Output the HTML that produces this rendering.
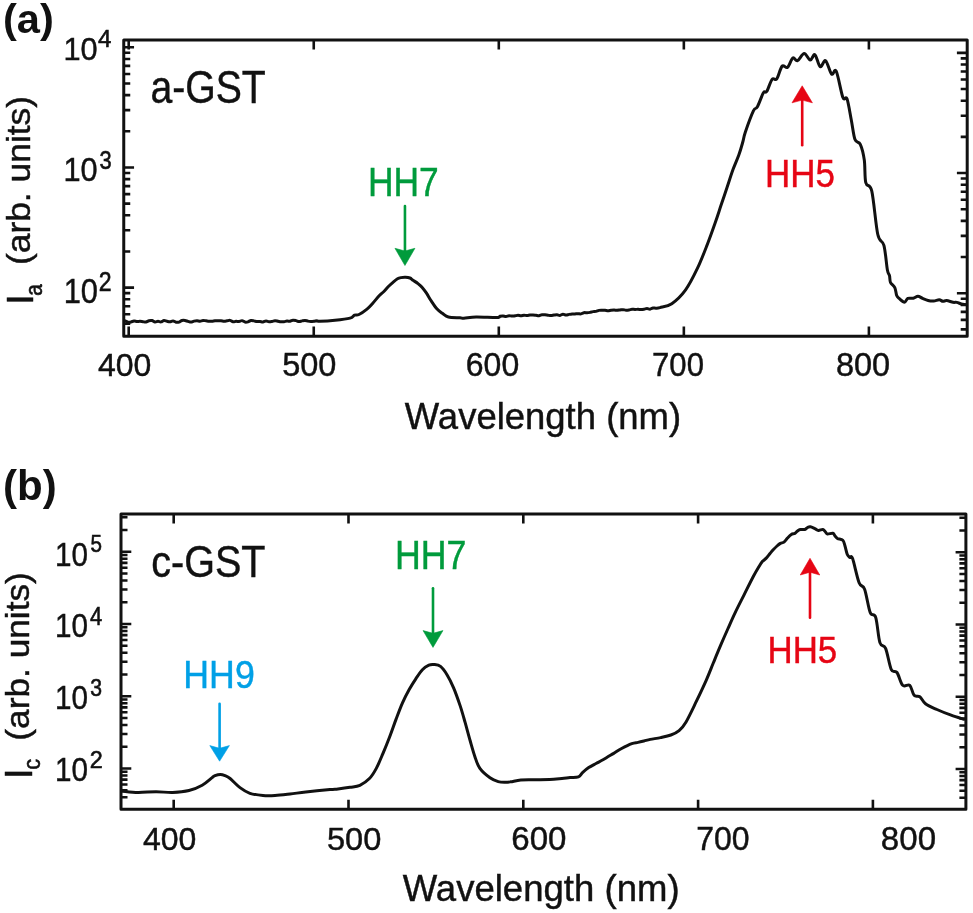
<!DOCTYPE html>
<html><head><meta charset="utf-8"><style>
html,body{margin:0;padding:0;background:#fff;width:973px;height:913px;overflow:hidden}
svg{display:block;will-change:transform}
text{font-family:"Liberation Sans",sans-serif;white-space:pre;-webkit-font-smoothing:antialiased}
</style></head><body>
<svg width="973" height="913" viewBox="0 0 973 913">
<rect width="973" height="913" fill="#fff"/>
<rect x="123.75" y="39.9" width="843.45" height="296.3" fill="none" stroke="#111" stroke-width="3.0" stroke-linejoin="round"/>
<path d="M123.75 323.81h6.5 M967.2 329.41h-6.5 M123.75 314.3h6.5 M967.2 319.9h-6.5 M123.75 306.25h6.5 M967.2 311.85h-6.5 M123.75 299.29h6.5 M967.2 304.89h-6.5 M123.75 293.14h6.5 M967.2 298.74h-6.5 M123.75 287.64h10.3 M967.2 293.24h-10.3 M123.75 251.47h6.5 M967.2 257.07h-6.5 M123.75 230.3h6.5 M967.2 235.9h-6.5 M123.75 215.29h6.5 M967.2 220.89h-6.5 M123.75 203.64h6.5 M967.2 209.24h-6.5 M123.75 194.13h6.5 M967.2 199.73h-6.5 M123.75 186.08h6.5 M967.2 191.68h-6.5 M123.75 179.12h6.5 M967.2 184.72h-6.5 M123.75 172.97h6.5 M967.2 178.57h-6.5 M123.75 167.47h10.3 M967.2 173.07h-10.3 M123.75 131.3h6.5 M967.2 136.9h-6.5 M123.75 110.13h6.5 M967.2 115.73h-6.5 M123.75 95.12h6.5 M967.2 100.72h-6.5 M123.75 83.47h6.5 M967.2 89.07h-6.5 M123.75 73.96h6.5 M967.2 79.56h-6.5 M123.75 65.91h6.5 M967.2 71.51h-6.5 M123.75 58.95h6.5 M967.2 64.55h-6.5 M123.75 52.8h6.5 M967.2 58.4h-6.5 M123.75 47.3h10.3 M967.2 52.9h-10.3 M128.7 336.2v-9.6 M128.7 39.9v9.6 M313.75 336.2v-9.6 M313.75 39.9v9.6 M498.8 336.2v-9.6 M498.8 39.9v9.6 M683.85 336.2v-9.6 M683.85 39.9v9.6 M868.9 336.2v-9.6 M868.9 39.9v9.6" stroke="#111" stroke-width="2.6" fill="none"/>
<rect x="121" y="514" width="844.9" height="295.3" fill="none" stroke="#111" stroke-width="3.0" stroke-linejoin="round"/>
<path d="M121 797.21h6.5 M965.9 797.71h-6.5 M121 790.21h6.5 M965.9 790.71h-6.5 M121 784.49h6.5 M965.9 784.99h-6.5 M121 779.65h6.5 M965.9 780.15h-6.5 M121 775.46h6.5 M965.9 775.96h-6.5 M121 771.77h6.5 M965.9 772.27h-6.5 M121 768.46h10.3 M965.9 768.96h-10.3 M121 746.71h6.5 M965.9 747.21h-6.5 M121 733.99h6.5 M965.9 734.49h-6.5 M121 724.96h6.5 M965.9 725.46h-6.5 M121 717.96h6.5 M965.9 718.46h-6.5 M121 712.24h6.5 M965.9 712.74h-6.5 M121 707.4h6.5 M965.9 707.9h-6.5 M121 703.21h6.5 M965.9 703.71h-6.5 M121 699.52h6.5 M965.9 700.02h-6.5 M121 696.21h10.3 M965.9 696.71h-10.3 M121 674.46h6.5 M965.9 674.96h-6.5 M121 661.74h6.5 M965.9 662.24h-6.5 M121 652.71h6.5 M965.9 653.21h-6.5 M121 645.71h6.5 M965.9 646.21h-6.5 M121 639.99h6.5 M965.9 640.49h-6.5 M121 635.15h6.5 M965.9 635.65h-6.5 M121 630.96h6.5 M965.9 631.46h-6.5 M121 627.27h6.5 M965.9 627.77h-6.5 M121 623.96h10.3 M965.9 624.46h-10.3 M121 602.21h6.5 M965.9 602.71h-6.5 M121 589.49h6.5 M965.9 589.99h-6.5 M121 580.46h6.5 M965.9 580.96h-6.5 M121 573.46h6.5 M965.9 573.96h-6.5 M121 567.74h6.5 M965.9 568.24h-6.5 M121 562.9h6.5 M965.9 563.4h-6.5 M121 558.71h6.5 M965.9 559.21h-6.5 M121 555.02h6.5 M965.9 555.52h-6.5 M121 551.71h10.3 M965.9 552.21h-10.3 M121 529.96h6.5 M965.9 530.46h-6.5 M121 517.24h6.5 M965.9 517.74h-6.5 M173.7 809.3v-9.6 M173.7 514v9.6 M348.5 809.3v-9.6 M348.5 514v9.6 M523.3 809.3v-9.6 M523.3 514v9.6 M698.1 809.3v-9.6 M698.1 514v9.6 M872.9 809.3v-9.6 M872.9 514v9.6" stroke="#111" stroke-width="2.6" fill="none"/>
<path d="M125 320.84C125.5 321.05 127 321.93 128 322.12C129 322.3 130 322.14 131 321.96C132 321.78 133 321.12 134 321.04C135 320.95 136 321.41 137 321.46C138 321.52 139 321.33 140 321.37C141 321.41 142 321.63 143 321.73C144 321.83 145 322.14 146 321.97C147 321.8 148 320.94 149 320.71C150 320.48 151 320.36 152 320.58C153 320.8 154 321.91 155 322.03C156 322.15 157 321.32 158 321.29C159 321.27 160 322.01 161 321.88C162 321.75 163 320.6 164 320.5C165 320.41 166 321.08 167 321.29C168 321.51 169 321.85 170 321.78C171 321.72 172 320.82 173 320.89C174 320.95 175 321.97 176 322.17C177 322.37 178 322.36 179 322.08C180 321.81 181 320.77 182 320.51C183 320.24 184 320.34 185 320.49C186 320.64 187 321.14 188 321.41C189 321.68 190 322.17 191 322.12C192 322.07 193 321.33 194 321.11C195 320.89 196 320.8 197 320.81C198 320.81 199 321.23 200 321.17C201 321.11 202 320.51 203 320.45C204 320.39 205 320.67 206 320.79C207 320.91 208 321.09 209 321.17C210 321.25 211 321.33 212 321.27C213 321.21 214 320.87 215 320.79C216 320.71 217 320.78 218 320.78C219 320.77 220 320.68 221 320.75C222 320.81 223 321.15 224 321.17C225 321.19 226 320.99 227 320.86C228 320.73 229 320.21 230 320.37C231 320.53 232 321.67 233 321.83C234 321.99 235 321.38 236 321.32C237 321.26 238 321.58 239 321.46C240 321.35 241 320.53 242 320.63C243 320.74 244 321.88 245 322.08C246 322.28 247 322.1 248 321.83C249 321.57 250 320.66 251 320.49C252 320.33 253 320.69 254 320.87C255 321.05 256 321.45 257 321.56C258 321.67 259 321.47 260 321.53C261 321.6 262 322.02 263 321.93C264 321.84 265 321.03 266 321C267 320.96 268 321.65 269 321.72C270 321.8 271 321.59 272 321.43C273 321.27 274 320.79 275 320.76C276 320.73 277 321.09 278 321.27C279 321.44 280 321.71 281 321.79C282 321.86 283 321.83 284 321.72C285 321.6 286 321.17 287 321.09C288 321.01 289 321.38 290 321.24C291 321.09 292 320.34 293 320.23C294 320.12 295 320.37 296 320.6C297 320.82 298 321.54 299 321.59C300 321.64 301 321.08 302 320.89C303 320.7 304 320.41 305 320.45C306 320.49 307 320.96 308 321.12C309 321.28 310 321.35 311 321.39C312 321.42 313 321.43 314 321.33C315 321.23 316 320.79 317 320.78C318 320.78 317 321.38 320 321.3C323 321.22 330 320.83 335 320.3C340 319.77 346.75 318.95 350 318.1C353.25 317.25 353 315.8 354.5 315.2C356 314.6 356.92 315.52 359 314.5C361.08 313.48 364.73 310.95 367 309.1C369.27 307.25 370.53 305.67 372.6 303.4C374.67 301.13 377.52 297.48 379.4 295.5C381.28 293.52 382.4 293 383.9 291.5C385.4 290 386.88 288.03 388.4 286.5C389.92 284.97 391.48 283.58 393 282.3C394.52 281.02 396.17 279.58 397.5 278.8C398.83 278.02 399.68 277.87 401 277.6C402.32 277.33 403.92 277.13 405.4 277.2C406.88 277.27 408.62 277.48 409.9 278C411.18 278.52 411.75 279.37 413.1 280.3C414.45 281.23 416.48 282.42 418 283.6C419.52 284.78 420.78 285.8 422.2 287.4C423.62 289 424.97 290.9 426.5 293.2C428.03 295.5 429.63 298.55 431.4 301.2C433.17 303.85 435.22 307.03 437.1 309.1C438.98 311.17 440.82 312.28 442.7 313.6C444.58 314.92 445.52 316.3 448.4 317C451.28 317.7 457.42 317.6 460 317.8C462.58 318 461.2 318.33 463.9 318.2C466.6 318.07 470.72 317.1 476.2 317C481.68 316.9 492.83 317.72 496.8 317.6C500.77 317.48 498.97 316.56 500 316.29C501.03 316.02 502 315.95 503 315.98C504 316.01 505 316.52 506 316.47C507 316.42 508 315.73 509 315.67C510 315.61 511 316.1 512 316.12C513 316.14 514 315.94 515 315.81C516 315.68 517 315.34 518 315.34C519 315.34 520 315.83 521 315.8C522 315.77 523 315.2 524 315.16C525 315.11 526 315.57 527 315.55C528 315.53 529 315.13 530 315.03C531 314.94 532 314.93 533 314.98C534 315.02 535 315.18 536 315.3C537 315.42 538 315.79 539 315.7C540 315.61 541 314.92 542 314.78C543 314.63 544 314.75 545 314.82C546 314.9 547 315.12 548 315.24C549 315.36 550 315.59 551 315.56C552 315.52 553 315.18 554 315.04C555 314.91 556 314.7 557 314.76C558 314.82 559 315.48 560 315.39C561 315.3 562 314.25 563 314.2C564 314.16 565 315.08 566 315.11C567 315.14 568 314.53 569 314.36C570 314.2 571 314.2 572 314.12C573 314.04 574 313.97 575 313.9C576 313.83 577 313.7 578 313.69C579 313.69 580 314.04 581 313.87C582 313.7 583 312.87 584 312.68C585 312.49 586 312.78 587 312.73C588 312.67 589 312.55 590 312.36C591 312.18 592 311.77 593 311.61C594 311.45 595 311.6 596 311.39C597 311.18 598 310.57 599 310.38C600 310.19 601 310.26 602 310.25C603 310.24 604 310.22 605 310.3C606 310.38 607 310.74 608 310.75C609 310.75 610 310.43 611 310.32C612 310.2 613 310.07 614 310.06C615 310.05 616 310.27 617 310.26C618 310.25 619 310.08 620 309.98C621 309.88 622 309.64 623 309.67C624 309.7 625 310.1 626 310.14C627 310.18 628 310.05 629 309.9C630 309.75 631 309.3 632 309.23C633 309.16 634 309.48 635 309.48C636 309.49 637 309.25 638 309.26C639 309.27 640 309.53 641 309.52C642 309.5 643 309.35 644 309.18C645 309.01 646 308.49 647 308.49C648 308.48 649 309.24 650 309.16C651 309.07 652 308.12 653 307.96C654 307.79 654.83 308.22 656 308.16C657.17 308.1 657.37 308.34 660 307.6C662.63 306.86 667.53 306.65 671.8 303.7C676.07 300.75 681.32 295.82 685.6 289.9C689.88 283.98 693.88 275.77 697.5 268.2C701.12 260.63 704.35 252.07 707.3 244.5C710.25 236.93 712.9 229.37 715.2 222.8C717.5 216.23 719.12 211.02 721.1 205.1C723.08 199.18 725.12 193.22 727.1 187.3C729.08 181.38 731.03 175.02 733 169.6C734.97 164.18 737.27 159.4 738.9 154.8C740.53 150.2 741.73 145.77 742.8 142C743.87 138.23 743.53 137.38 745.3 132.2C747.07 127.02 751.38 115.13 753.4 110.9C755.42 106.67 755.73 109.82 757.4 106.8C759.07 103.78 761.85 95.35 763.4 92.8C764.95 90.25 765.25 93.73 766.7 91.5C768.15 89.27 770.42 81.52 772.1 79.4C773.78 77.28 775.13 81.02 776.8 78.8C778.47 76.58 780.32 68 782.1 66.1C783.88 64.2 785.72 68.75 787.5 67.4C789.28 66.05 791.13 59.12 792.8 58C794.47 56.88 795.6 61.47 797.5 60.7C799.4 59.93 802.08 53.5 804.2 53.4C806.32 53.3 808.42 59.88 810.2 60.1C811.98 60.32 813.23 53.6 814.9 54.7C816.57 55.8 818.42 65.7 820.2 66.7C821.98 67.7 823.7 59.47 825.6 60.7C827.5 61.93 829.82 72.32 831.6 74.1C833.38 75.88 834.42 67.5 836.3 71.4C838.18 75.3 841.12 92.93 842.9 97.5C844.68 102.07 845.6 95.05 847 98.8C848.4 102.55 849.97 113.2 851.3 120C852.63 126.8 853.5 135.55 855 139.6C856.5 143.65 858.75 140.9 860.3 144.3C861.85 147.7 863.38 153.6 864.3 160C865.22 166.4 864.55 177.52 865.8 182.7C867.05 187.88 869.8 182.47 871.8 191.1C873.8 199.73 875.78 225.47 877.8 234.5C879.82 243.53 882.3 239.38 883.9 245.3C885.5 251.22 886.47 264.95 887.4 270C888.33 275.05 888.98 273.52 889.5 275.6C890.02 277.68 889.62 280.5 890.5 282.5C891.38 284.5 893.77 285.43 894.8 287.6C895.83 289.77 895.93 293.65 896.7 295.5C897.47 297.35 898.1 297.58 899.4 298.7C900.7 299.82 903.1 302.25 904.5 302.2C905.9 302.15 906.33 299.07 907.8 298.4C909.27 297.73 911.62 298.57 913.3 298.2C914.98 297.83 916.35 296.17 917.9 296.2C919.45 296.23 920.9 297.68 922.6 298.4C924.3 299.12 926.25 300.07 928.1 300.5C929.95 300.93 931.85 301.12 933.7 301C935.55 300.88 937.67 299.75 939.2 299.8C940.73 299.85 941.67 301.17 942.9 301.3C944.13 301.43 944.9 300.43 946.6 300.6C948.3 300.77 951.4 302 953.1 302.3C954.8 302.6 955.42 302.12 956.8 302.4C958.18 302.68 960.02 303.63 961.4 304C962.78 304.37 964.48 304.5 965.1 304.6" fill="none" stroke="#111" stroke-width="3.0" stroke-linejoin="round" stroke-linecap="round"/>
<path d="M122.4 791.2C125 791.42 132.38 792.42 138 792.5C143.62 792.58 150.33 791.7 156.1 791.7C161.87 791.7 167.12 792.7 172.6 792.5C178.08 792.3 184.07 791.72 189 790.5C193.93 789.28 198.35 787.35 202.2 785.2C206.05 783.05 209.97 779.2 212.1 777.6C214.23 776 213.63 776.13 215 775.6C216.37 775.07 218.63 774.4 220.3 774.4C221.97 774.4 223.37 774.92 225 775.6C226.63 776.28 227.6 776.5 230.1 778.5C232.6 780.5 236.7 785.13 240 787.6C243.3 790.07 246.07 791.98 249.9 793.3C253.73 794.62 258.82 795.13 263 795.5C267.18 795.87 270.5 795.75 275 795.5C279.5 795.25 284.87 794.58 290 794C295.13 793.42 299.13 792.75 305.8 792C312.47 791.25 324.63 790.02 330 789.5C335.37 788.98 334.67 789.27 338 788.9C341.33 788.53 346.35 787.9 350 787.3C353.65 786.7 356.62 786.8 359.9 785.3C363.18 783.8 366.97 781.12 369.7 778.3C372.43 775.48 374.1 772.52 376.3 768.4C378.5 764.28 380.7 758.8 382.9 753.6C385.1 748.4 387.3 742.95 389.5 737.2C391.7 731.45 393.92 724.87 396.1 719.1C398.28 713.33 400.42 707.53 402.6 702.6C404.78 697.67 407 693.47 409.2 689.5C411.4 685.53 413.6 682.1 415.8 678.8C418 675.5 420.22 671.98 422.4 669.7C424.58 667.42 426.98 665.97 428.9 665.1C430.82 664.23 431.97 664.28 433.9 664.5C435.83 664.72 438.32 664.7 440.5 666.4C442.68 668.1 444.82 671.13 447 674.7C449.18 678.27 451.4 682.6 453.6 687.8C455.8 693 458.28 700.13 460.2 705.9C462.12 711.67 463.45 716.63 465.1 722.4C466.75 728.17 468.45 734.75 470.1 740.5C471.75 746.25 473.37 752.25 475 756.9C476.63 761.55 477.4 764.92 479.9 768.4C482.4 771.88 486.95 775.6 490 777.8C493.05 780 495.7 780.85 498.2 781.6C500.7 782.35 502.93 782.27 505 782.3C507.07 782.33 507.97 782.18 510.6 781.8C513.23 781.42 516.73 780.33 520.8 780C524.87 779.67 530.2 779.87 535 779.8C539.8 779.73 545.12 779.82 549.6 779.6C554.08 779.38 558.5 778.83 561.9 778.5C565.3 778.17 567.25 777.87 570 777.6C572.75 777.33 576.32 777.73 578.4 776.9C580.48 776.07 580.78 774.15 582.5 772.6C584.22 771.05 586.45 769.12 588.7 767.6C590.95 766.08 593.62 764.8 596 763.5C598.38 762.2 600.12 761.45 603 759.8C605.88 758.15 610.2 755.48 613.3 753.6C616.4 751.72 618.52 750.17 621.6 748.5C624.68 746.83 629.07 744.62 631.8 743.6C634.53 742.58 635.97 742.83 638 742.4C640.03 741.97 641.95 741.5 644 741C646.05 740.5 647.53 739.97 650.3 739.4C653.07 738.83 657.17 738.33 660.6 737.6C664.03 736.87 667.82 736.17 670.9 735C673.98 733.83 676.6 732.73 679.1 730.6C681.6 728.47 683.05 727.02 685.9 722.2C688.75 717.38 692.8 708.72 696.2 701.7C699.6 694.68 703.42 686.63 706.3 680.1C709.18 673.57 711.1 668.32 713.5 662.5C715.9 656.68 718.28 650.87 720.7 645.2C723.12 639.53 725.58 633.93 728 628.5C730.42 623.07 732.5 618.25 735.2 612.6C737.9 606.95 741.18 600.62 744.2 594.6C747.22 588.58 750.83 581.18 753.3 576.5C755.77 571.82 757.5 568.98 759 566.5C760.5 564.02 761.13 562.95 762.3 561.6C763.47 560.25 764.72 559.75 766 558.4C767.28 557.05 768.8 554.93 770 553.5C771.2 552.07 772.03 551.05 773.2 549.8C774.37 548.55 775.8 547.07 777 546C778.2 544.93 779.23 544.05 780.4 543.4C781.57 542.75 782.82 543 784 542.1C785.18 541.2 786.28 539.27 787.5 538C788.72 536.73 790.07 535.27 791.3 534.5C792.53 533.73 793.87 533.98 794.9 533.4C795.93 532.82 796.6 531.65 797.5 531C798.4 530.35 799.08 529.75 800.3 529.5C801.52 529.25 803.6 529.83 804.8 529.5C806 529.17 806.58 527.95 807.5 527.5C808.42 527.05 809.08 526.62 810.3 526.8C811.52 526.98 813.45 528 814.8 528.6C816.15 529.2 817.05 530.25 818.4 530.4C819.75 530.55 821.72 529.23 822.9 529.5C824.08 529.77 824.75 531.25 825.5 532C826.25 532.75 826.17 533.78 827.4 534C828.63 534.22 831.63 532.97 832.9 533.3C834.17 533.63 834.25 535.13 835 536C835.75 536.87 836.1 537.78 837.4 538.5C838.7 539.22 841.53 539.05 842.8 540.3C844.07 541.55 844.25 543.63 845 546C845.75 548.37 846.47 552.58 847.3 554.5C848.13 556.42 849.12 556.82 850 557.5C850.88 558.18 851.08 554.4 852.6 558.6C854.12 562.8 857.1 577.6 859.1 582.7C861.1 587.8 862.75 584.23 864.6 589.2C866.45 594.17 868.35 607.8 870.2 612.5C872.05 617.2 874.08 612.38 875.7 617.4C877.32 622.42 878.25 637.45 879.9 642.6C881.55 647.75 883.7 643.8 885.6 648.3C887.5 652.8 889.4 665.57 891.3 669.6C893.2 673.63 895.1 669.88 897 672.5C898.9 675.12 900.57 683.17 902.7 685.3C904.83 687.43 907.9 683.63 909.8 685.3C911.7 686.97 912.43 693.4 914.1 695.3C915.77 697.2 917.9 695.28 919.8 696.7C921.7 698.12 922.65 701.67 925.5 703.8C928.35 705.93 932.63 707.6 936.9 709.5C941.17 711.4 946.58 713.57 951.1 715.2C955.62 716.83 961.85 718.62 964 719.3" fill="none" stroke="#111" stroke-width="3.0" stroke-linejoin="round" stroke-linecap="round"/>
<line x1="404.95" y1="206" x2="404.95" y2="251" stroke="#009b3c" stroke-width="2.6" stroke-linecap="round"/>
<path d="M404.95 265.5L394.95 248.3L404.95 251L414.95 248.3Z" fill="#009b3c" stroke="#009b3c" stroke-width="0.6" stroke-linejoin="round"/>
<line x1="802.2" y1="145.3" x2="802.2" y2="100.1" stroke="#e60514" stroke-width="2.6" stroke-linecap="round"/>
<path d="M802.2 85.8L792 102.8L802.2 100.1L812.4 102.8Z" fill="#e60514" stroke="#e60514" stroke-width="0.6" stroke-linejoin="round"/>
<line x1="219.6" y1="703.7" x2="219.6" y2="748.3" stroke="#00a0e6" stroke-width="2.6" stroke-linecap="round"/>
<path d="M219.6 761.2L209.8 745.6L219.6 748.3L229.4 745.6Z" fill="#00a0e6" stroke="#00a0e6" stroke-width="0.6" stroke-linejoin="round"/>
<line x1="433" y1="588.3" x2="433" y2="633.3" stroke="#009b3c" stroke-width="2.6" stroke-linecap="round"/>
<path d="M433 647.4L423.05 630.6L433 633.3L442.95 630.6Z" fill="#009b3c" stroke="#009b3c" stroke-width="0.6" stroke-linejoin="round"/>
<line x1="810" y1="617.7" x2="810" y2="572.2" stroke="#e60514" stroke-width="2.6" stroke-linecap="round"/>
<path d="M810 558.3L800.25 575L810 572.2L819.75 575Z" fill="#e60514" stroke="#e60514" stroke-width="0.6" stroke-linejoin="round"/>
<text id="ta" x="3.02" y="33.39" font-size="41.05" fill="#111" textLength="50.85" lengthAdjust="spacingAndGlyphs" font-weight="bold">(a)</text>
<text id="tb" x="3" y="500.46" font-size="41.68" fill="#111" textLength="53.69" lengthAdjust="spacingAndGlyphs" font-weight="bold">(b)</text>
<text id="a10_4" x="63.47" y="59.9" font-size="32.16" fill="#111" textLength="34.22" lengthAdjust="spacingAndGlyphs" stroke="#111" stroke-width="0.45">10</text>
<text id="a10_3" x="63.47" y="180.92" font-size="33.33" fill="#111" textLength="34.22" lengthAdjust="spacingAndGlyphs" stroke="#111" stroke-width="0.45">10</text>
<text id="a10_2" x="63.67" y="302.6" font-size="34.33" fill="#111" textLength="34.33" lengthAdjust="spacingAndGlyphs" stroke="#111" stroke-width="0.45">10</text>
<text id="as4" x="98" y="47" font-size="24" fill="#111" stroke="#111" stroke-width="0.6">4</text>
<text id="as3" x="99.42" y="169.4" font-size="25.41" fill="#111" textLength="12.17" lengthAdjust="spacingAndGlyphs" stroke="#111" stroke-width="0.6">3</text>
<text id="as2" x="98.81" y="290.7" font-size="26.99" fill="#111" textLength="12.83" lengthAdjust="spacingAndGlyphs" stroke="#111" stroke-width="0.6">2</text>
<text id="b10_5" x="54.95" y="566.3" font-size="33.89" fill="#111" textLength="33.01" lengthAdjust="spacingAndGlyphs" stroke="#111" stroke-width="0.45">10</text>
<text id="b10_4" x="54.95" y="636.7" font-size="33.45" fill="#111" textLength="33.01" lengthAdjust="spacingAndGlyphs" stroke="#111" stroke-width="0.45">10</text>
<text id="b10_3" x="54.95" y="709.4" font-size="33.45" fill="#111" textLength="33.01" lengthAdjust="spacingAndGlyphs" stroke="#111" stroke-width="0.45">10</text>
<text id="b10_2" x="54.95" y="781.3" font-size="33.45" fill="#111" textLength="33.01" lengthAdjust="spacingAndGlyphs" stroke="#111" stroke-width="0.45">10</text>
<text id="bs5" x="90.46" y="552.22" font-size="24.31" fill="#111" textLength="11.47" lengthAdjust="spacingAndGlyphs" stroke="#111" stroke-width="0.6">5</text>
<text id="bs4" x="89.9" y="624.8" font-size="25.41" fill="#111" textLength="12.23" lengthAdjust="spacingAndGlyphs" stroke="#111" stroke-width="0.6">4</text>
<text id="bs3" x="90.31" y="696.01" font-size="24.57" fill="#111" textLength="11.8" lengthAdjust="spacingAndGlyphs" stroke="#111" stroke-width="0.6">3</text>
<text id="bs2" x="89.77" y="768" font-size="23.58" fill="#111" textLength="13.03" lengthAdjust="spacingAndGlyphs" stroke="#111" stroke-width="0.6">2</text>
<text id="agst" x="150.42" y="103.2" font-size="45.99" fill="#111" textLength="115.29" lengthAdjust="spacingAndGlyphs" stroke="#111" stroke-width="0.45">a-GST</text>
<text id="cgst" x="151.2" y="577.4" font-size="44.85" fill="#111" textLength="114.3" lengthAdjust="spacingAndGlyphs" stroke="#111" stroke-width="0.45">c-GST</text>
<text id="ahh7" x="367.88" y="195.6" font-size="41.17" fill="#009b3c" textLength="70.87" lengthAdjust="spacingAndGlyphs" stroke="#009b3c" stroke-width="0.45">HH7</text>
<text id="ahh5" x="765.01" y="187.49" font-size="38.87" fill="#e60514" textLength="69.91" lengthAdjust="spacingAndGlyphs" stroke="#e60514" stroke-width="0.45">HH5</text>
<text id="bhh9" x="183.35" y="688.2" font-size="39" fill="#00a0e6" textLength="71.41" lengthAdjust="spacingAndGlyphs" stroke="#00a0e6" stroke-width="0.45">HH9</text>
<text id="bhh7" x="394.95" y="569" font-size="40.01" fill="#009b3c" textLength="71.4" lengthAdjust="spacingAndGlyphs" stroke="#009b3c" stroke-width="0.45">HH7</text>
<text id="bhh5" x="767.52" y="662.6" font-size="37.7" fill="#e60514" textLength="69.7" lengthAdjust="spacingAndGlyphs" stroke="#e60514" stroke-width="0.45">HH5</text>
<text id="ax400" x="98" y="376" font-size="32" fill="#111" stroke="#111" stroke-width="0.45">400</text>
<text id="ax500" x="282.18" y="375.8" font-size="32.87" fill="#111" textLength="54.23" lengthAdjust="spacingAndGlyphs" stroke="#111" stroke-width="0.45">500</text>
<text id="ax600" x="465.8" y="375.6" font-size="32.3" fill="#111" textLength="53.39" lengthAdjust="spacingAndGlyphs" stroke="#111" stroke-width="0.45">600</text>
<text id="ax700" x="652.03" y="375.8" font-size="32.87" fill="#111" textLength="51.93" lengthAdjust="spacingAndGlyphs" stroke="#111" stroke-width="0.45">700</text>
<text id="ax800" x="835.98" y="375.8" font-size="32.87" fill="#111" textLength="54.23" lengthAdjust="spacingAndGlyphs" stroke="#111" stroke-width="0.45">800</text>
<text id="bx400" x="143" y="850" font-size="32" fill="#111" stroke="#111" stroke-width="0.45">400</text>
<text id="bx500" x="326.98" y="850.4" font-size="32.15" fill="#111" textLength="54.44" lengthAdjust="spacingAndGlyphs" stroke="#111" stroke-width="0.45">500</text>
<text id="bx600" x="511.27" y="850.4" font-size="33.6" fill="#111" textLength="55.17" lengthAdjust="spacingAndGlyphs" stroke="#111" stroke-width="0.45">600</text>
<text id="bx700" x="696.28" y="850.2" font-size="33.89" fill="#111" textLength="53.41" lengthAdjust="spacingAndGlyphs" stroke="#111" stroke-width="0.45">700</text>
<text id="bx800" x="880.87" y="850.4" font-size="33.6" fill="#111" textLength="55.17" lengthAdjust="spacingAndGlyphs" stroke="#111" stroke-width="0.45">800</text>
<text id="axl" x="404.8" y="429.4" font-size="37" fill="#111" textLength="276.31" lengthAdjust="spacingAndGlyphs" stroke="#111" stroke-width="0.45">Wavelength (nm)</text>
<text id="bxl" x="402.7" y="900.6" font-size="37" fill="#111" textLength="276.91" lengthAdjust="spacingAndGlyphs" stroke="#111" stroke-width="0.45">Wavelength (nm)</text>
<text id="ayI" transform="translate(32.5 304.8) rotate(-90)" x="0" y="0" font-size="37.31" fill="#111" stroke="#111" stroke-width="0.45">I</text>
<text id="aysub" transform="translate(42 295.76) rotate(-90)" x="0" y="0" font-size="23.63" fill="#111" textLength="11.51" lengthAdjust="spacingAndGlyphs" stroke="#111" stroke-width="0.6">a</text>
<text id="ayrest" transform="translate(30.08 265.05) rotate(-90)" x="0" y="0" font-size="33.13" fill="#111" textLength="169.1" lengthAdjust="spacingAndGlyphs" stroke="#111" stroke-width="0.45">(arb. units)</text>
<text id="byI" transform="translate(32 779.3) rotate(-90)" x="0" y="0" font-size="39.64" fill="#111" stroke="#111" stroke-width="0.45">I</text>
<text id="bysub" transform="translate(40.2 769.74) rotate(-90)" x="0" y="0" font-size="23.27" fill="#111" textLength="10.93" lengthAdjust="spacingAndGlyphs" stroke="#111" stroke-width="0.6">c</text>
<text id="byrest" transform="translate(29.37 740.64) rotate(-90)" x="0" y="0" font-size="32.92" fill="#111" textLength="168.49" lengthAdjust="spacingAndGlyphs" stroke="#111" stroke-width="0.45">(arb. units)</text>
</svg>
</body></html>
